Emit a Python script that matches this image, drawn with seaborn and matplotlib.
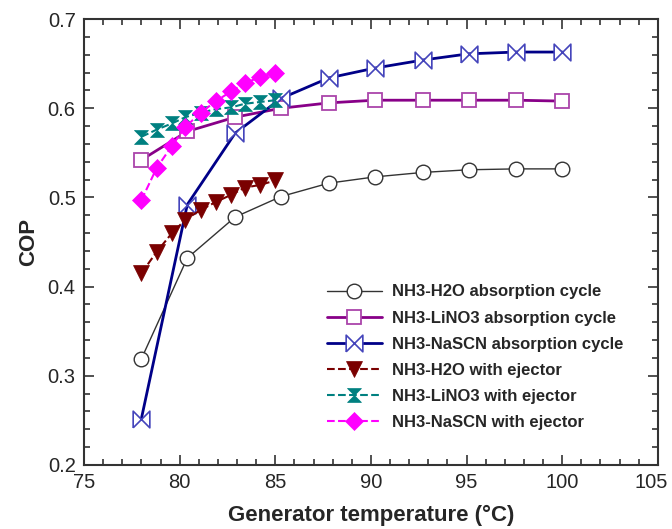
import numpy as np
import pandas as pd
import seaborn as sns
import matplotlib.pyplot as plt
import matplotlib.transforms as mtransforms
from matplotlib.ticker import MultipleLocator

# generator temperature (°C)
t_abs = [78.0, 80.4, 82.9, 85.3, 87.8, 90.2, 92.7, 95.1, 97.6, 100.0]
t_ej = [78.0, 78.8, 79.6, 80.3, 81.1, 81.9, 82.7, 83.4, 84.2, 85.0]

# COP values
cop_h2o = [0.319, 0.432, 0.478, 0.501, 0.516, 0.523, 0.528, 0.531, 0.532, 0.532]
cop_lino3 = [0.542, 0.574, 0.590, 0.600, 0.606, 0.609, 0.609, 0.609, 0.609, 0.608]
cop_nascn = [0.252, 0.492, 0.572, 0.611, 0.634, 0.645, 0.654, 0.661, 0.663, 0.663]
cop_h2o_ej = [0.415, 0.439, 0.460, 0.475, 0.486, 0.495, 0.503, 0.511, 0.514, 0.519]
cop_lino3_ej = [0.568, 0.576, 0.583, 0.590, 0.595, 0.599, 0.601, 0.605, 0.607, 0.609]
cop_nascn_ej = [0.497, 0.533, 0.558, 0.579, 0.595, 0.608, 0.619, 0.628, 0.635, 0.639]

labels = ["NH3-H2O absorption cycle", "NH3-LiNO3 absorption cycle",
          "NH3-NaSCN absorption cycle", "NH3-H2O with ejector",
          "NH3-LiNO3 with ejector", "NH3-NaSCN with ejector"]

sns.set_theme(style="ticks")
plt.rcParams['font.family'] = ['Liberation Sans', 'DejaVu Sans']

bowtie = [(-1, -1), (1, 1), (1, -1), (-1, 1), (-1, -1)]
hourglass = [(-1, 1), (1, 1), (-1, -1), (1, -1), (-1, 1)]

fig = plt.figure(figsize=(6.72, 5.29), dpi=100)
ax = fig.add_axes([0.125, 0.121, 0.854, 0.843])

series = [
    (t_abs, cop_h2o, dict(color="#333333", lw=1.0, ls="-", marker="o", ms=10.5,
                          mfc="white", mec="#333333", mew=1.0)),
    (t_abs, cop_lino3, dict(color="#880088", lw=2.0, ls="-", marker="s", ms=10,
                            mfc="white", mec="#aa44aa", mew=1.3)),
    (t_abs, cop_nascn, dict(color="#000088", lw=2.0, ls="-", marker=bowtie, ms=12,
                            mfc="white", mec="#4444bb", mew=1.2)),
    (t_ej, cop_h2o_ej, dict(color="#7a0000", lw=1.5, ls="--", marker="v", ms=11,
                            mfc="#7a0000", mec="#7a0000", mew=0.5)),
    (t_ej, cop_lino3_ej, dict(color="#008080", lw=1.5, ls="--", marker=hourglass, ms=10,
                              mfc="#008080", mec="#008080", mew=0.5)),
    (t_ej, cop_nascn_ej, dict(color="#ff00ff", lw=1.5, ls="--", marker="D", ms=9,
                              mfc="#ff00ff", mec="#ff00ff", mew=0.5)),
]

for (x, y, kw), lab in zip(series, labels):
    df = pd.DataFrame({"T": x, "COP": y})
    sns.lineplot(data=df, x="T", y="COP", ax=ax, label=lab, **kw)

ax.set_xlim(75, 105)
ax.set_ylim(0.2, 0.7)
ax.xaxis.set_major_locator(MultipleLocator(5))
ax.xaxis.set_minor_locator(MultipleLocator(1))
ax.yaxis.set_major_locator(MultipleLocator(0.1))
ax.yaxis.set_minor_locator(MultipleLocator(0.02))
ax.tick_params(which="both", direction="in", top=True, right=True,
               color="#333333", width=1.2)
ax.tick_params(which="major", length=7, labelsize=14.5, pad=6)
ax.tick_params(which="minor", length=4)
for s in ax.spines.values():
    s.set_linewidth(1.5)
    s.set_color("#333333")

ax.set_xlabel("Generator temperature (°C)", fontsize=16, fontweight="bold", labelpad=9)
ax.set_ylabel("COP", fontsize=16, fontweight="bold", labelpad=6)

ax.legend(loc="upper left", bbox_to_anchor=(0.423, 0.405), frameon=False,
          prop={"weight": "bold", "size": 12}, handlelength=3.3,
          handletextpad=0.6, labelspacing=0.67, borderpad=0, borderaxespad=0,
          numpoints=1)

# nudge the "105" tick label left so it stays inside the picture
fig.canvas.draw()
for lbl in ax.get_xticklabels():
    if lbl.get_text() == "105":
        lbl.set_transform(lbl.get_transform() +
                          mtransforms.ScaledTranslation(-0.07, 0, fig.dpi_scale_trans))

fig.savefig("out.png", dpi=100)
